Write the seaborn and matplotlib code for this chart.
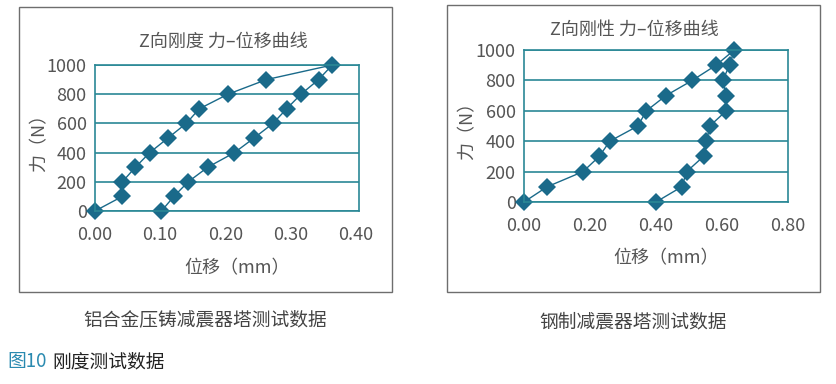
import numpy as np
import pandas as pd
import seaborn as sns
import matplotlib.pyplot as plt
from matplotlib.patches import Rectangle

# 铝合金压铸减震器塔 (loading then unloading)
alu_disp = [0.00, 0.042, 0.042, 0.062, 0.084, 0.112, 0.140, 0.160, 0.204, 0.263, 0.364,
            0.343, 0.316, 0.294, 0.273, 0.244, 0.214, 0.173, 0.143, 0.121, 0.102]
alu_force = [0, 100, 200, 300, 400, 500, 600, 700, 800, 900, 1000,
             900, 800, 700, 600, 500, 400, 300, 200, 100, 0]

# 钢制减震器塔
steel_disp = [0.00, 0.070, 0.179, 0.228, 0.260, 0.345, 0.371, 0.430, 0.510, 0.582, 0.637,
              0.623, 0.602, 0.613, 0.613, 0.563, 0.553, 0.544, 0.493, 0.478, 0.400]
steel_force = [0, 100, 200, 300, 400, 500, 600, 700, 800, 900, 1000,
               900, 800, 700, 600, 500, 400, 300, 200, 100, 0]

alu_xticks = [0.0, 0.1, 0.2, 0.3, 0.4]
steel_xticks = [0.0, 0.2, 0.4, 0.6, 0.8]
yticks = [0, 200, 400, 600, 800, 1000]

titles = ["Z向刚度 力–位移曲线", "Z向刚性 力–位移曲线"]
captions = ["铝合金压铸减震器塔测试数据", "钢制减震器塔测试数据"]

sns.set_style("white")
plt.rcParams['font.family'] = ['Noto Sans CJK SC', 'DejaVu Sans']

W, H = 837, 384
TEAL = "#2a8896"
MARK = "#1a6a8a"
TXT = "#555555"
FS = 13

fig = plt.figure(figsize=(W / 100, H / 100), dpi=100)


def px_rect(x0, y0, x1, y1):
    return [x0 / W, 1 - y1 / H, (x1 - x0) / W, (y1 - y0) / H]


def draw_panel(box, ax_rect, disp, force, xticks, xlim, title, caption,
               title_x, title_y, ylab_x, xlab_y, cap_y):
    # outer grey frame
    fig.patches.append(Rectangle((box[0] / W, 1 - box[3] / H),
                                 (box[2] - box[0]) / W, (box[3] - box[1]) / H,
                                 transform=fig.transFigure, fill=False,
                                 edgecolor="#6e6e6e", linewidth=1.0))
    ax = fig.add_axes(px_rect(*ax_rect))
    df = pd.DataFrame({"disp": disp, "force": force})
    sns.lineplot(data=df, x="disp", y="force", sort=False, estimator=None,
                 color=MARK, marker="D", markersize=9, markeredgewidth=0,
                 linewidth=1.0, ax=ax)
    ax.set_xlim(*xlim)
    ax.set_ylim(0, 1000)
    ax.set_xticks(xticks)
    ax.set_xticklabels([f"{v:.2f}" for v in xticks])
    ax.set_yticks(yticks)
    ax.set_yticklabels([str(v) for v in yticks])
    ax.yaxis.grid(True, color=TEAL, linewidth=1.2)
    ax.xaxis.grid(False)
    for s in ax.spines.values():
        s.set_color(TEAL)
        s.set_linewidth(1.2)
    ax.tick_params(length=0, labelsize=FS, labelcolor=TXT)
    ax.tick_params(axis="x", pad=11)
    ax.tick_params(axis="y", pad=6)
    ax.set_xlabel("")
    ax.set_ylabel("")
    for line in ax.lines:
        line.set_clip_on(False)
    cx = (ax_rect[0] + ax_rect[2]) / 2
    fig.text(title_x / W, 1 - title_y / H, title,
             ha="center", va="center", fontsize=FS, color=TXT)
    fig.text(ylab_x / W, 1 - (ax_rect[1] + ax_rect[3]) / 2 / H, "力（N）",
             ha="center", va="center", rotation=90, fontsize=FS, color=TXT)
    fig.text(cx / W + 0.012, 1 - xlab_y / H, "位移（mm）",
             ha="center", va="center", fontsize=FS, color=TXT)
    fig.text((box[0] + box[2]) / 2 / W, 1 - cap_y / H, caption,
             ha="center", va="center", fontsize=13.5, color="#444444")


draw_panel((19, 7, 392, 292), (95, 65, 359, 211), alu_disp, alu_force,
           alu_xticks, (0, 0.405), titles[0], captions[0],
           title_x=223, title_y=42, ylab_x=39, xlab_y=268, cap_y=320)
draw_panel((447, 5, 820, 292), (524, 50, 788, 202), steel_disp, steel_force,
           steel_xticks, (0, 0.79), titles[1], captions[1],
           title_x=634, title_y=30, ylab_x=467, xlab_y=258, cap_y=322)

fig.text(7 / W, 1 - 362 / H, "图10", ha="left", va="center",
         fontsize=13.5, color="#2a8ab0")
fig.text(52 / W, 1 - 362 / H, "刚度测试数据", ha="left", va="center",
         fontsize=13.5, color="#222222")

fig.savefig("out.png", dpi=100)
